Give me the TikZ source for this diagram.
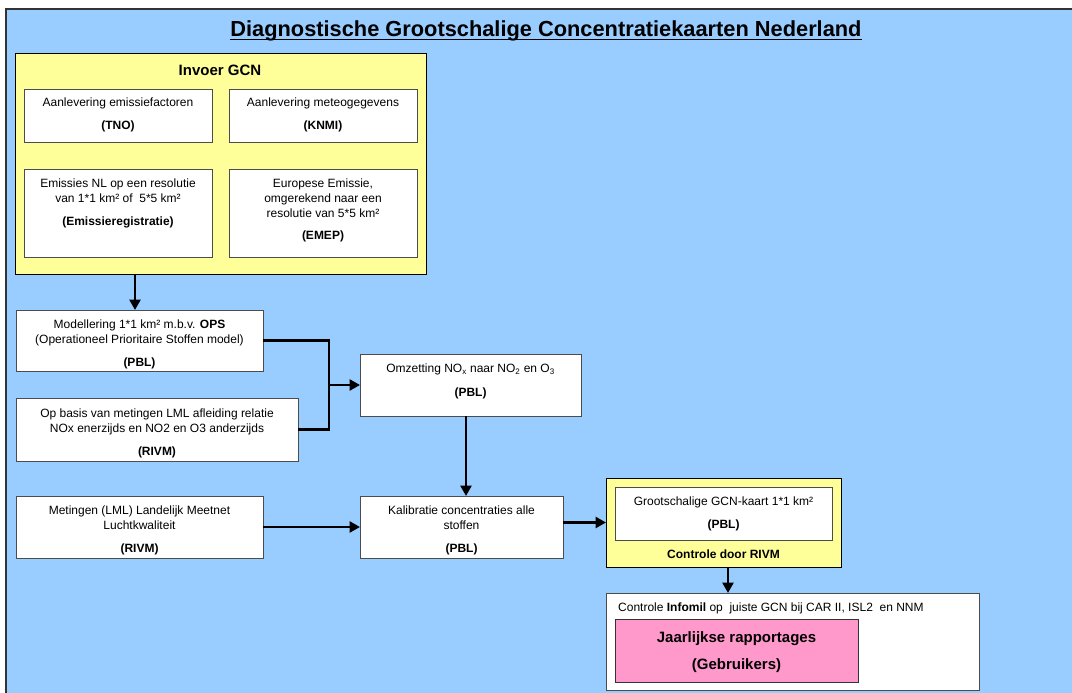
\documentclass[tikz,border=0pt]{standalone}
\usepackage{fontspec}
\setmainfont{Liberation Sans}
\usetikzlibrary{arrows.meta}
\definecolor{bgblue}{RGB}{153,204,255}
\definecolor{ylw}{RGB}{255,255,153}
\definecolor{pnk}{RGB}{255,153,204}
\newcommand\mybox[6]{\node[#2, minimum width={#5-#3}, minimum height={#6-#4}] (#1) at ({(#3+#5)/2},{(#4+#6)/2}) {};}
\begin{document}
\begin{tikzpicture}[x=1pt,y=-1pt,
  box/.style={draw=black!70, line width=0.9pt, fill=white, inner sep=0, outer sep=0},
  ybox/.style={draw=black, line width=0.9pt, fill=ylw, inner sep=0, outer sep=0},
  pbox/.style={draw=black!80, line width=0.9pt, fill=pnk, inner sep=0, outer sep=0},
  txt/.style={inner sep=0, outer sep=0, align=center, font=\fontsize{12}{15}\selectfont, anchor=north},
  conn/.style={line width=2.9pt, -{Triangle[length=10.5pt,width=11pt]}},
  seg/.style={line width=2.9pt}
]
\useasboundingbox (0,0) rectangle (1072,693);
\fill[white] (0,0) rectangle (1072,693);
\begin{scope}
\clip (0,0) rectangle (1072,693);
\filldraw[fill=bgblue, draw=black!80, line width=1.2pt] (6,9) rectangle (1090,710);
\end{scope}

% title
\node[font=\fontsize{21.8}{26}\selectfont\bfseries, inner sep=0, anchor=base] (title) at (546,37)
  {Diagnostische Grootschalige Concentratiekaarten Nederland};
\draw[line width=1.6pt] ([yshift=-2.6pt]title.base west) -- ([yshift=-2.6pt]title.base east);

% boxes
\mybox{invoer}{ybox}{15}{53}{426}{274}
\mybox{tno}{box}{24}{89}{212}{142}
\mybox{knmi}{box}{229}{89}{417}{142}
\mybox{emis}{box}{24}{169}{212}{257}
\mybox{emep}{box}{229}{169}{417}{257}
\mybox{modl}{box}{16}{310}{263}{371}
\mybox{opb}{box}{16}{398}{298}{461}
\mybox{met}{box}{16}{496}{263}{558}
\mybox{omz}{box}{360}{354}{581}{416}
\mybox{kal}{box}{360}{496}{563}{558}
\mybox{gcn}{ybox}{606}{478}{841}{567}
\mybox{gcnin}{box}{615}{487}{832}{540}
\mybox{ctrl}{box}{606}{593}{979}{690}
\mybox{rap}{pbox}{615}{619}{858}{682}

% texts
\node[font=\fontsize{15}{18}\selectfont\bfseries, anchor=base, inner sep=0] (invoert) at (220,75.3) {Invoer GCN};
\node[txt] (tnot) at (118,98.1) {Aanlevering emissiefactoren\\[8pt]\textbf{(TNO)}};
\node[txt] (knmit) at (323,98.1) {Aanlevering meteogegevens\\[8pt]\textbf{(KNMI)}};
\node[txt] (emist) at (118,178.6) {Emissies NL op een resolutie\\van 1*1 km² of\ \ 5*5 km²\\[8pt]\textbf{(Emissieregistratie)}};
\node[txt] (emept) at (323,178.5) {Europese Emissie,\\omgerekend naar een\\resolutie van 5*5 km²\\[7.5pt]\textbf{(EMEP)}};
\node[txt] (modlt) at (139.5,319.6) {Modellering 1*1 km² m.b.v. \textbf{OPS}\\(Operationeel Prioritaire Stoffen model)\\[8.6pt]\textbf{(PBL)}};
\node[txt] (opbt) at (157,408.9) {Op basis van metingen LML afleiding relatie\\NOx enerzijds en NO2 en O3 anderzijds\\[7.7pt]\textbf{(RIVM)}};
\node[txt] (mett) at (139.5,505.8) {Metingen (LML) Landelijk Meetnet\\Luchtkwaliteit\\[8pt]\textbf{(RIVM)}};
\node[txt] (omzt) at (470.5,363.6) {Omzetting NO\textsubscript{x} naar NO\textsubscript{2} en O\textsubscript{3}\\[9pt]\textbf{(PBL)}};
\node[txt] (kalt) at (461.5,505.6) {Kalibratie concentraties alle\\stoffen\\[8pt]\textbf{(PBL)}};
\node[txt] (gcnt) at (723.5,496.6) {Grootschalige GCN-kaart 1*1 km²\\[8pt]\textbf{(PBL)}};
\node[font=\fontsize{12}{15}\selectfont\bfseries, anchor=base, inner sep=0] (gcnc) at (723.5,558.3) {Controle door RIVM};
\node[font=\fontsize{12}{15}\selectfont, anchor=base west, inner sep=0] (ctrlt) at (618,611.5)
  {Controle \textbf{Infomil} op\ \ juiste GCN bij CAR II, ISL2\ \ en NNM};
\node[txt, font=\fontsize{15}{18}\selectfont\bfseries] (rapt) at (736.5,631.5) {Jaarlijkse rapportages\\[9pt](Gebruikers)};

% connectors
\coordinate (j) at (329,385);
\draw[conn] ([xshift=-85.5pt]invoer.south) -- ([xshift=-85.5pt]invoer.south |- modl.north);
\draw[seg] (modl.east) -| (j);
\draw[seg] (opb.east) -| (j);
\draw[conn] (j) -- (omz.west);
\draw[conn] ([xshift=-4.5pt]omz.south) -- ([xshift=-4.5pt]omz.south |- kal.north);
\draw[conn] (met.east) -- (kal.west);
\draw[conn] (kal.east |- gcn.west) -- (gcn.west);
\draw[conn] ([xshift=4.5pt]gcn.south) -- ([xshift=4.5pt]gcn.south |- ctrl.north);
\end{tikzpicture}
\end{document}
